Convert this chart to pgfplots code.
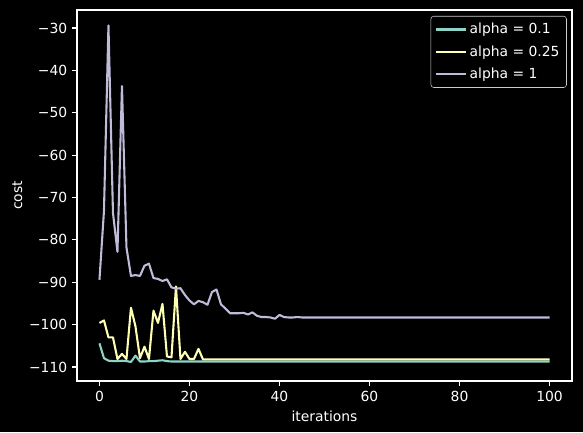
\documentclass[border=0pt]{standalone}
\usepackage{pgfplots}
\pgfplotsset{compat=1.18}
\usepackage{pgfplotstable}
\usepackage{fontspec}
\setmainfont{DejaVu Sans}
\definecolor{cA}{HTML}{8DD3C7}
\definecolor{cB}{HTML}{FEFFB3}
\definecolor{cC}{HTML}{BFBBD9}
\pgfplotstableread{
x y
0 -104.4
1 -107.9
2 -108.5
3 -108.6
4 -108.6
5 -108.5
6 -108.6
7 -108.8
8 -107.3
9 -108.7
10 -108.7
11 -108.6
12 -108.6
13 -108.5
14 -108.4
15 -108.6
16 -108.7
17 -108.7
18 -108.7
19 -108.7
20 -108.7
21 -108.7
22 -108.7
23 -108.7
24 -108.7
25 -108.7
26 -108.7
27 -108.7
28 -108.7
29 -108.7
30 -108.7
31 -108.7
32 -108.7
33 -108.7
34 -108.7
35 -108.7
36 -108.7
37 -108.7
38 -108.7
39 -108.7
40 -108.7
41 -108.7
42 -108.7
43 -108.7
44 -108.7
45 -108.7
46 -108.7
47 -108.7
48 -108.7
49 -108.7
50 -108.7
51 -108.7
52 -108.7
53 -108.7
54 -108.7
55 -108.7
56 -108.7
57 -108.7
58 -108.7
59 -108.7
60 -108.7
61 -108.7
62 -108.7
63 -108.7
64 -108.7
65 -108.7
66 -108.7
67 -108.7
68 -108.7
69 -108.7
70 -108.7
71 -108.7
72 -108.7
73 -108.7
74 -108.7
75 -108.7
76 -108.7
77 -108.7
78 -108.7
79 -108.7
80 -108.7
81 -108.7
82 -108.7
83 -108.7
84 -108.7
85 -108.7
86 -108.7
87 -108.7
88 -108.7
89 -108.7
90 -108.7
91 -108.7
92 -108.7
93 -108.7
94 -108.7
95 -108.7
96 -108.7
97 -108.7
98 -108.7
99 -108.7
100 -108.7
}\tA
\pgfplotstableread{
x y
0 -99.6
1 -99.0
2 -103.0
3 -103.0
4 -108.1
5 -106.9
6 -108.1
7 -96.0
8 -100.4
9 -107.9
10 -105.2
11 -108.1
12 -96.7
13 -99.6
14 -95.1
15 -107.5
16 -107.7
17 -91.0
18 -108.1
19 -106.4
20 -108.1
21 -108.1
22 -105.7
23 -108.2
24 -108.2
25 -108.2
26 -108.2
27 -108.2
28 -108.2
29 -108.2
30 -108.2
31 -108.2
32 -108.2
33 -108.2
34 -108.2
35 -108.2
36 -108.2
37 -108.2
38 -108.2
39 -108.2
40 -108.2
41 -108.2
42 -108.2
43 -108.2
44 -108.2
45 -108.2
46 -108.2
47 -108.2
48 -108.2
49 -108.2
50 -108.2
51 -108.2
52 -108.2
53 -108.2
54 -108.2
55 -108.2
56 -108.2
57 -108.2
58 -108.2
59 -108.2
60 -108.2
61 -108.2
62 -108.2
63 -108.2
64 -108.2
65 -108.2
66 -108.2
67 -108.2
68 -108.2
69 -108.2
70 -108.2
71 -108.2
72 -108.2
73 -108.2
74 -108.2
75 -108.2
76 -108.2
77 -108.2
78 -108.2
79 -108.2
80 -108.2
81 -108.2
82 -108.2
83 -108.2
84 -108.2
85 -108.2
86 -108.2
87 -108.2
88 -108.2
89 -108.2
90 -108.2
91 -108.2
92 -108.2
93 -108.2
94 -108.2
95 -108.2
96 -108.2
97 -108.2
98 -108.2
99 -108.2
100 -108.2
}\tB
\pgfplotstableread{
x y
0 -89.4
1 -73.2
2 -29.4
3 -73.6
4 -82.8
5 -43.7
6 -81.8
7 -88.5
8 -88.3
9 -88.5
10 -86.1
11 -85.6
12 -89.0
13 -89.2
14 -89.7
15 -89.3
16 -91.2
17 -91.5
18 -91.4
19 -93.0
20 -94.3
21 -95.2
22 -94.4
23 -94.7
24 -95.3
25 -92.3
26 -91.7
27 -95.2
28 -96.2
29 -97.3
30 -97.3
31 -97.3
32 -97.2
33 -97.6
34 -97.1
35 -97.9
36 -98.2
37 -98.2
38 -98.3
39 -98.6
40 -97.7
41 -98.2
42 -98.3
43 -98.3
44 -98.2
45 -98.3
46 -98.3
47 -98.3
48 -98.3
49 -98.3
50 -98.3
51 -98.3
52 -98.3
53 -98.3
54 -98.3
55 -98.3
56 -98.3
57 -98.3
58 -98.3
59 -98.3
60 -98.3
61 -98.3
62 -98.3
63 -98.3
64 -98.3
65 -98.3
66 -98.3
67 -98.3
68 -98.3
69 -98.3
70 -98.3
71 -98.3
72 -98.3
73 -98.3
74 -98.3
75 -98.3
76 -98.3
77 -98.3
78 -98.3
79 -98.3
80 -98.3
81 -98.3
82 -98.3
83 -98.3
84 -98.3
85 -98.3
86 -98.3
87 -98.3
88 -98.3
89 -98.3
90 -98.3
91 -98.3
92 -98.3
93 -98.3
94 -98.3
95 -98.3
96 -98.3
97 -98.3
98 -98.3
99 -98.3
100 -98.3
}\tC
\begin{document}
\begin{tikzpicture}
\fill[black] (-55.4pt,-36.7pt) rectangle (364.3pt,274.3pt);
\begin{axis}[
  scale only axis,
  width=356.4pt, height=267.1pt,
  xmin=-5, xmax=105,
  ymin=-113.3, ymax=-25.75,
  axis line style={white, line width=0.8pt},
  tick style={white, line width=0.8pt},
  tick align=outside,
  major tick length=3.5pt,
  xtick pos=lower, ytick pos=left,
  xtick={0,20,40,60,80,100},
  ytick={-110,-100,-90,-80,-70,-60,-50,-40,-30},
  yticklabels={−110,−100,−90,−80,−70,−60,−50,−40,−30},
  /pgf/number format/assume math mode=true,
  ticklabel style={white, font=\fontsize{10}{12}\selectfont},
  xlabel={iterations}, ylabel={cost},
  label style={white, font=\fontsize{10}{12}\selectfont},
  xlabel style={yshift=0pt},
  ylabel style={yshift=-2pt},
  legend style={at={(1,1)}, anchor=north east, xshift=-3.8pt, yshift=-4.3pt,
    fill=black, draw=white!80!black, rounded corners=2pt, text=white,
    font=\fontsize{10}{12}\selectfont, row sep=3pt,
    inner xsep=3pt, inner ysep=3pt},
  legend cell align=left,
  legend image code/.code={\draw[#1] (0cm,0cm) -- (0.75cm,0cm);},
  every axis plot/.append style={line width=1.5pt, line join=round},
]
\addplot[cA] table[x=x,y=y] {\tA};
\addlegendentry{alpha = 0.1}
\addplot[cB] table[x=x,y=y] {\tB};
\addlegendentry{alpha = 0.25}
\addplot[cC] table[x=x,y=y] {\tC};
\addlegendentry{alpha = 1}
\end{axis}
\end{tikzpicture}
\end{document}
